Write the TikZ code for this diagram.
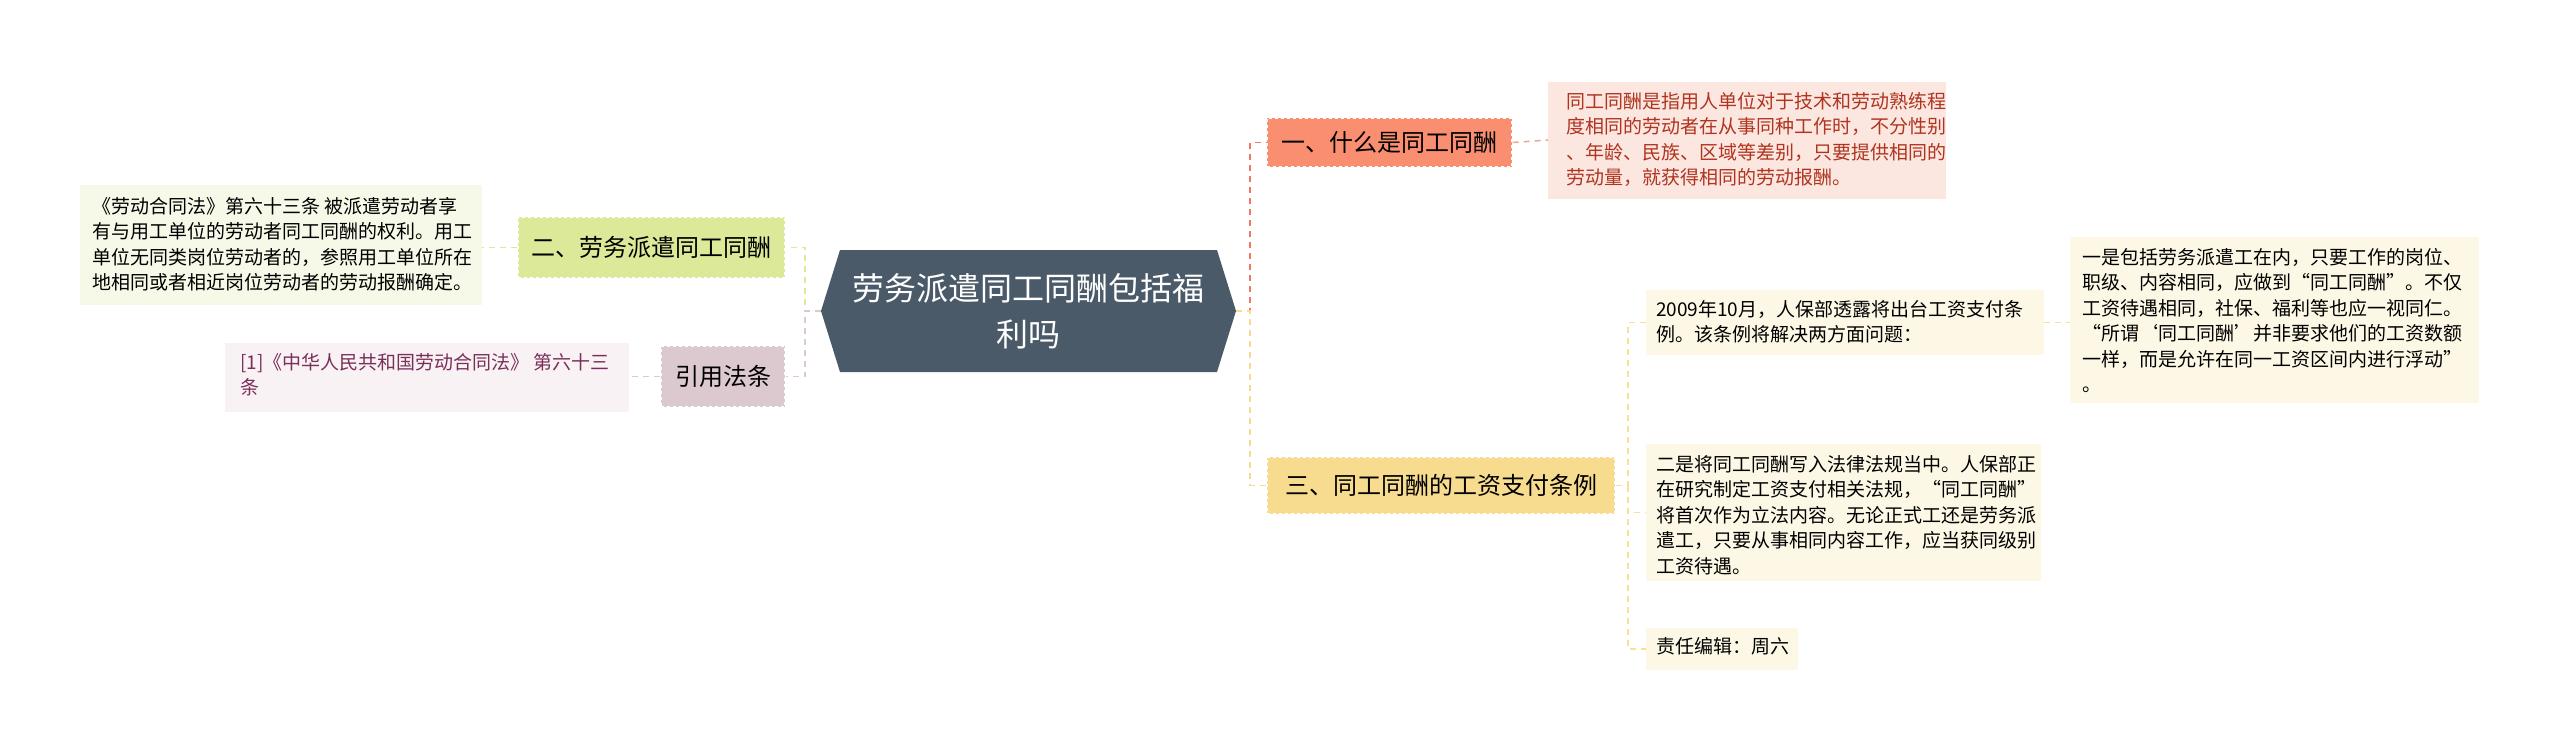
\documentclass[tikz,border=0pt]{standalone}
\usepackage{fontspec}
\setmainfont{Noto Sans CJK SC}
\usetikzlibrary{shapes.geometric}
\begin{document}
\begin{tikzpicture}[x=1pt,y=-1pt,
  leaf/.style={anchor=north west,inner sep=0pt,align=left,font=\fontsize{19}{25.5}\selectfont},
  br/.style={anchor=center,inner sep=0pt,font=\fontsize{24}{28}\selectfont,draw=white,dashed,line width=1.2pt},
  conn/.style={dashed,line width=1.5pt,dash pattern=on 6pt off 5pt}]
\fill[white] (0,0) rectangle (2560,752);
% center
\fill[fill={rgb,255:red,74;green,90;blue,104}] (821,311)--(840,250)--(1217,250)--(1236,311)--(1217,372)--(840,372)--cycle;
\node[inner sep=0pt,align=center,text=white,font=\fontsize{32}{46}\selectfont] (cen) at (1028,311) {劳务派遣同工同酬包括福\\利吗};
\coordinate (ce) at (1236,311);
\coordinate (cw) at (821,311);
% boxes
\fill[fill={rgb,255:red,249;green,142;blue,112}] (1267,118) rectangle (1512,167);
\node[br] (n1) at (1389.5,142.5) [minimum width=245,minimum height=49] {一、什么是同工同酬};
\fill[fill={rgb,255:red,252;green,230;blue,224}] (1548,82) rectangle (1946,199);
\node[leaf,text={rgb,255:red,176;green,52;blue,31}] (l1) at (1566,92) {同工同酬是指用人单位对于技术和劳动熟练程\\度相同的劳动者在从事同种工作时，不分性别\\、年龄、民族、区域等差别，只要提供相同的\\劳动量，就获得相同的劳动报酬。};
\coordinate (l1w) at (1548,140);

\fill[fill={rgb,255:red,220;green,233;blue,152}] (518,217) rectangle (785,278);
\node[br] (n2) at (651.5,247.5) [minimum width=267,minimum height=61] {二、劳务派遣同工同酬};
\fill[fill={rgb,255:red,246;green,248;blue,232}] (80,185) rectangle (482,305);
\node[leaf] (l2) at (92,197) {《劳动合同法》第六十三条 被派遣劳动者享\\有与用工单位的劳动者同工同酬的权利。用工\\单位无同类岗位劳动者的，参照用工单位所在\\地相同或者相近岗位劳动者的劳动报酬确定。};
\coordinate (l2e) at (482,247.5);

\fill[fill={rgb,255:red,220;green,201;blue,208}] (661,346) rectangle (785,407);
\node[br] (n3) at (723,376.5) [minimum width=124,minimum height=61] {引用法条};
\fill[fill={rgb,255:red,248;green,242;blue,244}] (225,343) rectangle (629,412);
\node[leaf,text={rgb,255:red,122;green,46;blue,90}] (l3) at (240,353) {[1]《中华人民共和国劳动合同法》 第六十三\\条};
\coordinate (l3e) at (629,376.5);

\fill[fill={rgb,255:red,247;green,220;blue,143}] (1267,457) rectangle (1615,514);
\node[br] (n4) at (1441,485.5) [minimum width=348,minimum height=57] {三、同工同酬的工资支付条例};

\fill[fill={rgb,255:red,253;green,248;blue,230}] (1646,290) rectangle (2044,355);
\node[leaf] (l4) at (1656,300) {2009年10月，人保部透露将出台工资支付条\\例。该条例将解决两方面问题：};
\fill[fill={rgb,255:red,253;green,248;blue,230}] (2070,237) rectangle (2479,403);
\node[leaf] (l5) at (2082,248) {一是包括劳务派遣工在内，只要工作的岗位、\\职级、内容相同，应做到“同工同酬”。不仅\\工资待遇相同，社保、福利等也应一视同仁。\\ “所谓‘同工同酬’并非要求他们的工资数额\\一样，而是允许在同一工资区间内进行浮动”\\。};
\fill[fill={rgb,255:red,253;green,248;blue,230}] (1646,444) rectangle (2041,581);
\node[leaf] (l6) at (1656,455) {二是将同工同酬写入法律法规当中。人保部正\\在研究制定工资支付相关法规，“同工同酬”\\将首次作为立法内容。无论正式工还是劳务派\\遣工，只要从事相同内容工作，应当获同级别\\工资待遇。};
\fill[fill={rgb,255:red,253;green,248;blue,230}] (1646,628) rectangle (1798,670);
\node[leaf] (l7) at (1656,637) {责任编辑：周六};

% connectors
\draw[conn,draw={rgb,255:red,240;green,120;blue,100}] (ce) -- ++(14,0) |- (n1.west);
\draw[conn,draw={rgb,255:red,247;green,220;blue,143}] (ce) -- ++(14,0) |- (n4.west);
\draw[conn,draw={rgb,255:red,230;green,170;blue,150}] (n1.east) -- (l1w);
\draw[conn,draw={rgb,255:red,220;green,233;blue,152}] (cw) -- ++(-16,0) |- (n2.east);
\draw[conn,draw={rgb,255:red,220;green,201;blue,208}] (cw) -- ++(-16,0) |- (n3.east);
\draw[conn,draw={rgb,255:red,220;green,233;blue,152}] (n2.west) -- (l2e);
\draw[conn,draw={rgb,255:red,220;green,201;blue,208}] (n3.west) -- (l3e);
\coordinate (v4) at (1628,485.5);
\draw[conn,draw={rgb,255:red,247;green,225;blue,150}] (n4.east) -- (v4) |- (1646,322.5);
\draw[conn,draw={rgb,255:red,247;green,225;blue,150}] (v4) |- (1646,512.5);
\draw[conn,draw={rgb,255:red,247;green,225;blue,150}] (v4) |- (1646,649);
\draw[conn,draw={rgb,255:red,247;green,225;blue,150}] (2044,322.5) -- (2070,322.5);
\end{tikzpicture}
\end{document}
